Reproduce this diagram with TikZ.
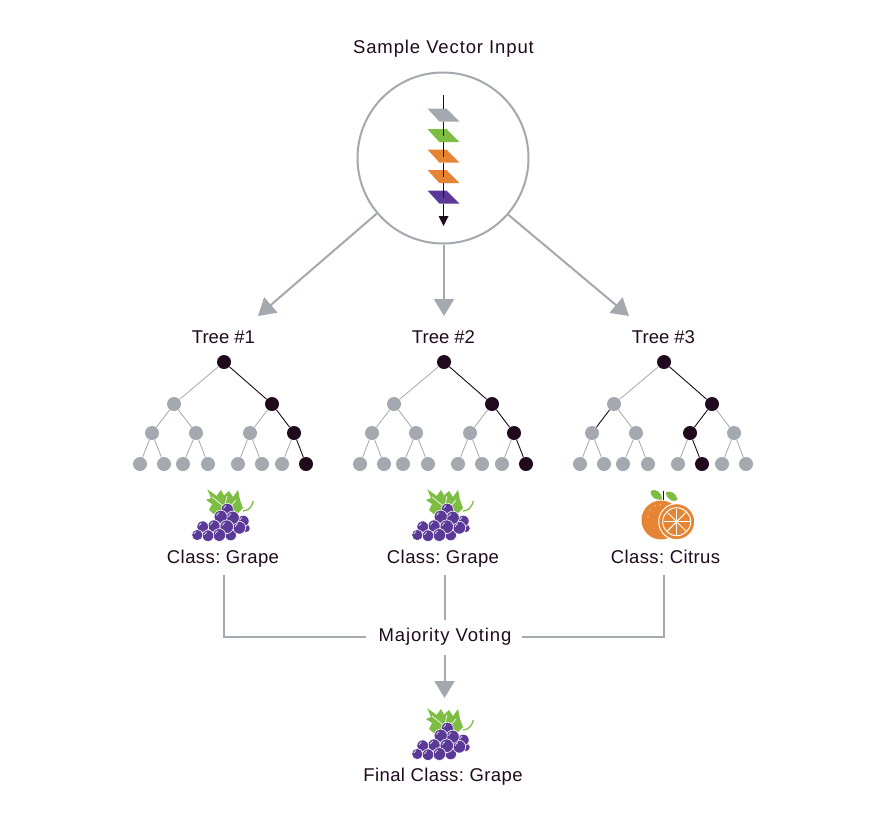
\documentclass[tikz,border=0pt]{standalone}
\usepackage{fontspec}
\setmainfont{Liberation Sans}
\usetikzlibrary{arrows.meta}
\definecolor{tgray}{HTML}{A3A9AF}
\definecolor{tdark}{HTML}{1F0A1E}
\definecolor{tgreen}{HTML}{7DBD42}
\definecolor{torange}{HTML}{E58433}
\definecolor{tpurple}{HTML}{5A3A96}
\newcommand{\lblfont}[1]{\fontsize{18.5}{22}\selectfont\frenchspacing\addfontfeatures{LetterSpace=#1}}
\tikzset{
  lbl/.style={text=tdark,font=\lblfont{0},inner sep=0pt,anchor=base},
  lblmid/.style={text=tdark,font=\lblfont{2.2},inner sep=0pt,anchor=base},
  lblwide/.style={text=tdark,font=\lblfont{4.8},inner sep=0pt,anchor=base},
  conn/.style={draw=tgray,line width=2pt},
  arr/.style={conn,-{Triangle[length=17pt,width=20pt]}},
  treenode/.style={circle,fill=tgray,minimum size=14pt,inner sep=0pt},
  hotnode/.style={fill=tdark},
  cold/.style={draw=tgray,line width=.8pt},
  hot/.style={draw=tdark,line width=.9pt},
  grape/.pic={
    \fill[tgreen] (207.3,489.3) -- (214,494) -- (216.5,496) -- (221,490) -- (224,495.5) -- (229,491) -- (233,497) -- (238,490) -- (240,500) -- (243,508) -- (236,515) -- (215,515) -- (209,510) -- (212,504) -- (206,500) -- (211,498) -- cycle;
    \draw[white,line width=.7pt] (212,497) -- (222,505) (227,496) -- (225,505) (236,500) -- (230,507);
    \draw[tgreen,line width=1.3pt] (243,511) .. controls (248,511) and (252,507) .. (253.3,501);
    \foreach \x/\y/\r in {246/528.3/4.2,243.3/521/5.8,230.7/535/5.8,227.3/509.3/6.1,239.3/527.7/6.4,232.7/517.7/6.6,220.7/516.7/6.6,226.7/526.7/6.8,214/526/6.1,202.7/526.7/5.8,219.3/535/6.4,208/535.7/5.8,197.3/535/5.6}{
      \fill[tpurple,draw=white,line width=.6pt] (\x,\y) circle (\r);
      \pgfmathsetmacro{\rr}{\r*.62}
      \draw[white,line width=.6pt] (\x-\rr,\y-1) arc (190:250:\rr);
    }
  }
}
\newcommand{\maketree}[2]{%
  \begin{scope}[shift={(#2,0)}]
    \foreach \n/\x/\y in {r/224/362,a/174/404,b/272/404,c/152/433,d/196/433,e/250/433,f/294/433,g/140/464,h/164/464,i/183/464,j/208/464,k/238/464,l/262/464,m/282/464,n/306/464}
      \node[treenode,#1\n/.try] (#1\n) at (\x,\y) {};
    \foreach \p/\q in {r/a,r/b,a/c,a/d,b/e,b/f,c/g,c/h,d/i,d/j,e/k,e/l,f/m,f/n}
      \draw[cold,#1\p\q/.try] (#1\p) -- (#1\q);
  \end{scope}}
\tikzset{
  Ar/.style={hotnode},Ab/.style={hotnode},Af/.style={hotnode},An/.style={hotnode},
  Arb/.style={hot},Abf/.style={hot},Afn/.style={hot},
  Br/.style={hotnode},Bb/.style={hotnode},Bf/.style={hotnode},Bn/.style={hotnode},
  Brb/.style={hot},Bbf/.style={hot},Bfn/.style={hot},
  Cr/.style={hotnode},Cb/.style={hotnode},Ce/.style={hotnode},Cl/.style={hotnode},
  Crb/.style={hot},Cbe/.style={hot},Cel/.style={hot},Cac/.style={hot}
}
\begin{document}
\begin{tikzpicture}[x=1pt,y=-1pt]
\useasboundingbox (0,0) rectangle (874,817);
\fill[white] (0,0) rectangle (874,817);

% input circle
\node[circle,draw=tgray,line width=2pt,fill=white,minimum size=171pt,inner sep=0pt] (input) at (443,158) {};
\node[lblwide] (title) at (443.5,53) {Sample Vector Input};
\foreach \y/\c in {108.5/tgray,129/tgreen,149.5/torange,170/torange,190.5/tpurple}
  \fill[\c] (427.5,\y) -- (446.5,\y) -- (459.5,\y+13.2) -- (439.5,\y+13.2) -- cycle;
\draw[tdark,line width=.9pt] (443.5,95) -- (443.5,108.5)
  (443.5,121.7) -- (443.5,136) (443.5,142.2) -- (443.5,157)
  (443.5,162.7) -- (443.5,177) (443.5,183.2) -- (443.5,198) (443.5,203.7) -- (443.5,216);
\fill[tdark] (438.5,216) -- (448.5,216) -- (443.5,226) -- cycle;

% input arrows
\coordinate (t1tip) at (258,316);
\coordinate (t2tip) at (444,316);
\coordinate (t3tip) at (629,316);
\draw[arr] (input.220.5) -- (t1tip);
\draw[arr] (input.south -| t2tip) -- (t2tip);
\draw[arr] (input.319.5) -- (t3tip);

% trees
\node[lbl] (t1) at (223.5,343) {Tree \#1};
\node[lbl] (t2) at (443.5,343) {Tree \#2};
\node[lbl] (t3) at (663.5,343) {Tree \#3};
\maketree{A}{0}
\maketree{B}{220}
\maketree{C}{440}

% fruit icons
\pic at (0,0) {grape};
\pic at (220,0) {grape};
\pic at (220,219) {grape};
% citrus
\fill[torange] (661,520) circle (19.5);
\fill[tgreen] (650.5,491) .. controls (650.5,497) and (655,500.5) .. (662,499.5) .. controls (662,493) and (657,488) .. (650.5,491) -- cycle;
\fill[tgreen] (677.5,499.5) .. controls (675,502.5) and (668,501.5) .. (665.5,492.5) .. controls (671,490) and (676,493) .. (677.5,499.5) -- cycle;
\draw[tdark,line width=1pt] (663.5,491) -- (663.5,500);
\fill[torange] (676.7,521.7) circle (18);
\draw[white,line width=1pt] (676.7,521.7) circle (18);
\draw[white,line width=1pt] (676.7,521.7) circle (14);
\foreach \a in {0,45,...,315}
  \draw[white,line width=1pt] (676.7,521.7) -- ++(\a:13);
\fill[white] (676.7,521.7) circle (1.5);
\foreach \x/\y in {650/510,655/506,648/517,660/505}
  \fill[white] (\x,\y) circle (.6);

\node[lblmid] (c1) at (223,563) {Class: Grape};
\node[lblmid] (c2) at (443,563) {Class: Grape};
\node[lblmid] (c3) at (665.5,563) {Class: Citrus};

% voting
\node[lblwide] (vote) at (445,641.5) {Majority Voting};
\node[lblmid] (final) at (443,781.5) {Final Class: Grape};
\coordinate (c1foot) at (223.5,575);
\coordinate (c2foot) at (444.5,575);
\coordinate (c3foot) at (663.5,575);
\coordinate (voteL) at (366,637);
\coordinate (voteR) at (522,637);
\coordinate (voteT) at (444.5,620);
\coordinate (voteB) at (444.5,655);
\coordinate (ftip) at (444.5,698);
\draw[conn] (c1foot) |- (voteL);
\draw[conn] (c2foot) -- (voteT);
\draw[conn] (c3foot) |- (voteR);
\draw[arr] (voteB) -- (ftip);
\end{tikzpicture}
\end{document}
